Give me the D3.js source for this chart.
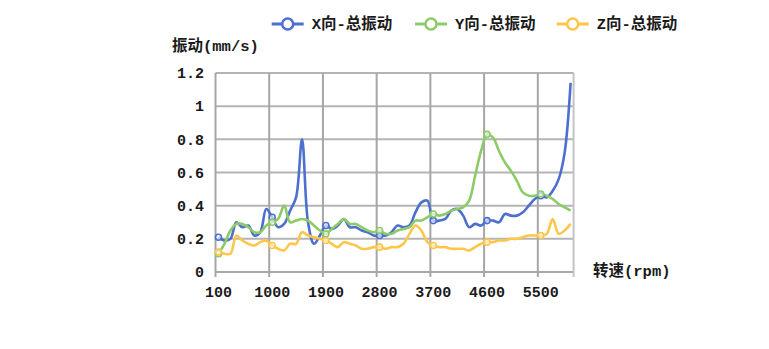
<!DOCTYPE html>
<html><head><meta charset="utf-8">
<script src="https://cdn.jsdelivr.net/npm/d3@7"></script>
<style>
html,body{margin:0;padding:0;background:#fff;}
svg{display:block;}
text{font-family:"Liberation Mono","Noto Sans CJK SC",monospace;font-weight:bold;fill:#1a1a1a;}
</style></head>
<body>
<svg id="chart" width="769" height="349"></svg>
<script>
const categories = [100,200,300,400,500,600,700,800,900,1000,1100,1200,1300,1400,1500,1600,1700,1800,1900,2000,
  2100,2200,2300,2400,2500,2600,2700,2800,2900,3000,3100,3200,3300,3400,3500,3600,3700,3800,3900,4000,
  4100,4200,4300,4400,4500,4600,4700,4800,4900,5000,5100,5200,5300,5400,5500,5600,5700,5800,5900,6000];
const xTickLabels = ["100","1000","1900","2800","3700","4600","5500"];
const yTicks = [0,0.2,0.4,0.6,0.8,1,1.2];
const yTickLabels = ["0","0.2","0.4","0.6","0.8","1","1.2"];
const seriesNames = ["X向-总振动","Y向-总振动","Z向-总振动"];
const xValues = [0.21,0.19,0.20,0.30,0.27,0.28,0.22,0.24,0.38,0.33,0.27,0.29,0.37,0.45,0.80,0.30,0.17,0.22,0.28,0.26,
  0.28,0.32,0.27,0.27,0.25,0.24,0.22,0.22,0.22,0.24,0.28,0.27,0.28,0.36,0.42,0.43,0.31,0.31,0.32,0.37,
  0.38,0.34,0.27,0.29,0.28,0.31,0.31,0.30,0.35,0.34,0.34,0.36,0.40,0.44,0.46,0.45,0.49,0.56,0.72,1.14];
const yValues = [0.11,0.17,0.25,0.29,0.29,0.27,0.24,0.24,0.28,0.30,0.32,0.40,0.30,0.31,0.32,0.31,0.28,0.25,0.23,0.26,
  0.29,0.32,0.29,0.29,0.27,0.25,0.24,0.25,0.23,0.23,0.25,0.26,0.27,0.31,0.31,0.33,0.35,0.34,0.35,0.37,
  0.38,0.39,0.43,0.58,0.73,0.83,0.81,0.73,0.66,0.61,0.55,0.48,0.46,0.46,0.47,0.46,0.44,0.41,0.39,0.37];
const zValues = [0.12,0.11,0.11,0.22,0.19,0.17,0.16,0.18,0.19,0.16,0.14,0.13,0.17,0.17,0.24,0.22,0.21,0.20,0.19,0.17,
  0.15,0.18,0.17,0.16,0.14,0.14,0.15,0.15,0.14,0.15,0.15,0.17,0.23,0.28,0.25,0.18,0.16,0.15,0.15,0.14,
  0.14,0.14,0.13,0.15,0.17,0.18,0.18,0.19,0.19,0.20,0.20,0.21,0.22,0.22,0.22,0.23,0.32,0.23,0.25,0.29];
const colors = ["#4D6FD0","#8DCB68","#FFC64A"];
const allSeries = [xValues,yValues,zValues];

const svg = d3.select("#chart");
const pLeft = 215.5, pRight = 573.6, pTop = 73, pBottom = 272;
const x = d3.scaleBand().domain(categories).range([pLeft,pRight]).padding(0);
const y = d3.scaleLinear().domain([0,1.2]).range([pBottom,pTop]);
const cx = c => x(c) + x.bandwidth()/2;

// horizontal grid
svg.append("g").selectAll("line").data(yTicks).join("line")
  .attr("x1",pLeft).attr("x2",pRight)
  .attr("y1",d=>y(d)).attr("y2",d=>y(d))
  .attr("stroke",d=>d===0?"#a8a8a8":"#b4b4b4").attr("stroke-width",2);

// vertical grid at labelled categories + right border
const labelled = categories.filter((c,i)=>i%9===0);
svg.append("g").selectAll("line").data(labelled).join("line")
  .attr("x1",d=>x(d)).attr("x2",d=>x(d))
  .attr("y1",pTop).attr("y2",pBottom+5)
  .attr("stroke","#a6a6a6").attr("stroke-width",2);
svg.append("line").attr("x1",pRight).attr("x2",pRight).attr("y1",pTop).attr("y2",pBottom+5)
  .attr("stroke","#c4c4c4").attr("stroke-width",2);

// y tick labels
svg.append("g").selectAll("text").data(yTicks).join("text")
  .attr("x",204).attr("y",d=>y(d)).attr("dy","0.35em")
  .attr("text-anchor","end").style("font-size","15px")
  .text((d,i)=>yTickLabels[i]);

// x tick labels
svg.append("g").selectAll("text").data(labelled).join("text")
  .attr("x",d=>cx(d)).attr("y",292).attr("dy","0.35em")
  .attr("text-anchor","middle").style("font-size","15px")
  .text((d,i)=>xTickLabels[i]);

// axis titles
svg.append("text").attr("x",172).attr("y",51).style("font-size","15.5px").text("振动(mm/s)");
svg.append("text").attr("x",593).attr("y",276).style("font-size","15.5px").text("转速(rpm)");

// lines
const line = d3.line().x((d,i)=>cx(categories[i])).y(d=>y(d)).curve(d3.curveCatmullRom.alpha(0.5));
allSeries.forEach((vals,k)=>{
  svg.append("path").datum(vals).attr("d",line)
    .attr("fill","none").attr("stroke",colors[k]).attr("stroke-width",2.6)
    .attr("stroke-linejoin","round");
});
allSeries.forEach((vals,k)=>{
  svg.append("g").selectAll("circle").data(vals.map((v,i)=>[i,v]).filter(d=>d[0]%9===0)).join("circle")
    .attr("cx",d=>cx(categories[d[0]])).attr("cy",d=>y(d[1])).attr("r",3)
    .attr("fill","#fff").attr("fill-opacity",0.6).attr("stroke",colors[k]).attr("stroke-width",1.6);
});

// legend
const legendX = [271.7,415,556.7];
const lg = svg.append("g");
seriesNames.forEach((name,k)=>{
  const lx = legendX[k];
  lg.append("line").attr("x1",lx).attr("x2",lx+32).attr("y1",24).attr("y2",24)
    .attr("stroke",colors[k]).attr("stroke-width",3);
  lg.append("circle").attr("cx",lx+16).attr("cy",24).attr("r",5.5)
    .attr("fill","#fff").attr("stroke",colors[k]).attr("stroke-width",2.5);
  lg.append("text").attr("x",lx+40).attr("y",24).attr("dy","0.35em")
    .style("font-size","15.5px").text(name);
});
</script>
</body></html>
